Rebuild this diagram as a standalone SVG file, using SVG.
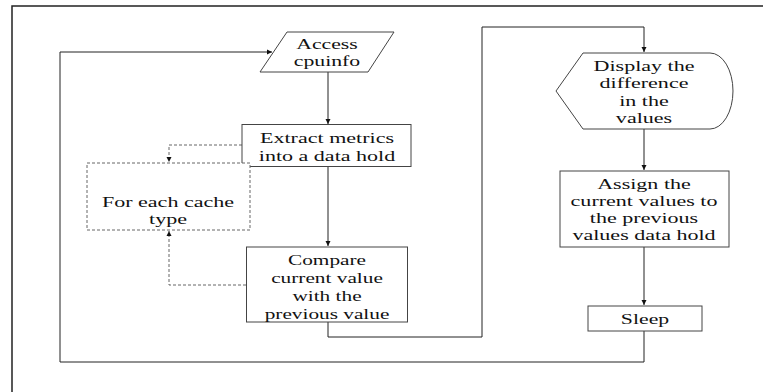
<svg xmlns="http://www.w3.org/2000/svg" width="763" height="392" viewBox="0 0 763 392">
<style>
.frame{fill:none;stroke:#222;stroke-width:1.5}
.box{fill:#fff;stroke:#444;stroke-width:1}
.dbox{fill:#fff;stroke:#666;stroke-width:1;stroke-dasharray:3,2}
.ln{fill:none;stroke:#222;stroke-width:1}
.dln{fill:none;stroke:#666;stroke-width:1;stroke-dasharray:3,2}
text{font-family:'Liberation Serif','Times New Roman',serif;font-size:15px;fill:#111;text-anchor:middle}
</style>
<defs>
<marker id="ah" markerWidth="6" markerHeight="6" refX="5" refY="3" orient="auto" markerUnits="userSpaceOnUse">
<path d="M0,0.5 L5,3 L0,5.5 Z" fill="#111"/>
</marker>
</defs>
<rect width="763" height="392" fill="#fff"/>
<path class="frame" d="M12,392 L12,6 L763,6"/>
<g id="connectors">
<path class="ln" d="M644,331 L644,362 L60,362 L60,52 L272,52" marker-end="url(#ah)"/>
<path class="ln" d="M328,72 L328,124" marker-end="url(#ah)"/>
<path class="ln" d="M328,167 L328,246" marker-end="url(#ah)"/>
<path class="dln" d="M242,145 L169,145 L169,162" marker-end="url(#ah)"/>
<path class="dln" d="M246,285 L169,285 L169,231" marker-end="url(#ah)"/>
<path class="ln" d="M328,322 L328,337 L482,337 L482,27 L644,27 L644,52" marker-end="url(#ah)"/>
<path class="ln" d="M644,129 L644,170" marker-end="url(#ah)"/>
<path class="ln" d="M644,247 L644,305" marker-end="url(#ah)"/>
</g>
<g id="access" font-family="Liberation Serif, serif">
<polygon class="box" points="287,32 394,32 368,72 260,72"/>
<text transform="translate(327,0) scale(1.45,1)"><tspan x="0" y="49">Access</tspan><tspan x="0" y="66">cpuinfo</tspan></text>
</g>
<g id="extract">
<rect class="box" x="242" y="124.5" width="169" height="42"/>
<text transform="translate(327,0) scale(1.47,1)"><tspan x="0" y="143">Extract metrics</tspan><tspan x="0" y="161">into a data hold</tspan></text>
</g>
<g id="foreach">
<rect class="dbox" x="87" y="163" width="163" height="67"/>
<text transform="translate(168,0) scale(1.47,1)"><tspan x="0" y="207">For each cache</tspan><tspan x="0" y="224">type</tspan></text>
</g>
<g id="compare">
<rect class="box" x="246.5" y="247" width="161" height="75"/>
<text transform="translate(327,0) scale(1.42,1)"><tspan x="0" y="265">Compare</tspan><tspan x="0" y="283">current value</tspan><tspan x="0" y="301">with the</tspan><tspan x="0" y="319">previous value</tspan></text>
</g>
<g id="display">
<path class="box" d="M556,91 L583,53 L710,53 A23,38 0 0 1 710,129 L583,129 Z"/>
<text transform="translate(644,0) scale(1.47,1)"><tspan x="0" y="71">Display the</tspan><tspan x="0" y="88.5">difference</tspan><tspan x="0" y="106">in the</tspan><tspan x="0" y="123">values</tspan></text>
</g>
<g id="assign">
<rect class="box" x="560" y="171" width="169" height="76"/>
<text transform="translate(644,0) scale(1.47,1)"><tspan x="0" y="189">Assign the</tspan><tspan x="0" y="206">current values to</tspan><tspan x="0" y="223">the previous</tspan><tspan x="0" y="240">values data hold</tspan></text>
</g>
<g id="sleep">
<rect class="box" x="588" y="306" width="114" height="25"/>
<text transform="translate(645,0) scale(1.45,1)"><tspan x="0" y="324">Sleep</tspan></text>
</g>
</svg>
